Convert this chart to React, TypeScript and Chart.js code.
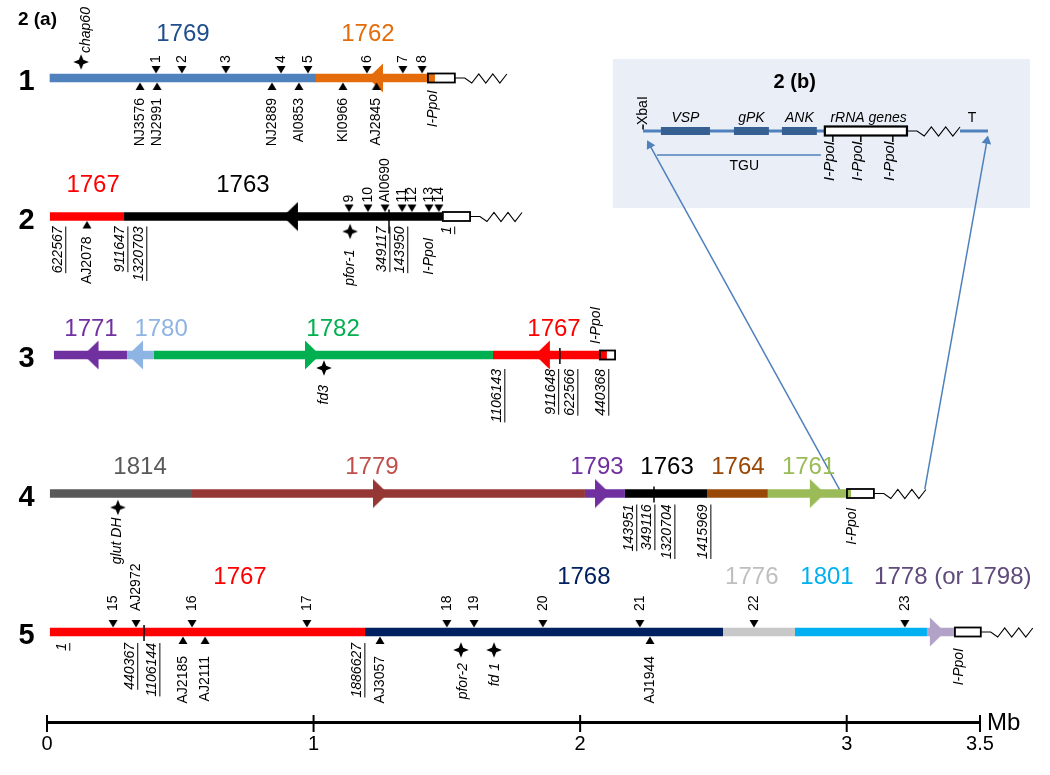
import React, { useEffect, useRef } from 'react';
import { Chart, registerables } from 'chart.js';

Chart.register(...registerables);

// ===================== DATA =====================
// x = position in Mb along each chromosomal band; row = band number of panel 2(a)
const ROW_NAMES = ['1', '2', '3', '4', '5'];
const AXIS_TICKS = [0, 1, 2, 3, 3.5];
const AXIS_UNIT = 'Mb';
const PANEL_A = '2 (a)';
const PANEL_B = '2 (b)';

const CONTIGS = [
  { row: 1, id: '1769', start: 0.010, end: 1.009, labelAt: 0.510 },
  { row: 1, id: '1762', start: 1.009, end: 1.429, labelAt: 1.204 },
  { row: 2, id: '1767', start: 0.011, end: 0.289, labelAt: 0.173 },
  { row: 2, id: '1763', start: 0.289, end: 1.485, labelAt: 0.735 },
  { row: 3, id: '1771', start: 0.026, end: 0.300, labelAt: 0.165 },
  { row: 3, id: '1780', start: 0.300, end: 0.401, labelAt: 0.428 },
  { row: 3, id: '1782', start: 0.401, end: 1.673, labelAt: 1.073 },
  { row: 3, id: '1767', start: 1.673, end: 2.074, labelAt: 1.902 },
  { row: 4, id: '1814', start: 0.011, end: 0.544, labelAt: 0.349 },
  { row: 4, id: '1779', start: 0.544, end: 2.018, labelAt: 1.219 },
  { row: 4, id: '1793', start: 2.018, end: 2.168, labelAt: 2.063 },
  { row: 4, id: '1763', start: 2.168, end: 2.476, labelAt: 2.326 },
  { row: 4, id: '1764', start: 2.476, end: 2.704, labelAt: 2.592 },
  { row: 4, id: '1761', start: 2.704, end: 3.001, labelAt: 2.857 },
  { row: 5, id: '1767', start: 0.011, end: 1.193, labelAt: 0.724 },
  { row: 5, id: '1768', start: 1.193, end: 2.536, labelAt: 2.014 },
  { row: 5, id: '1776', start: 2.536, end: 2.806, labelAt: 2.644 },
  { row: 5, id: '1801', start: 2.806, end: 3.301, labelAt: 2.926 },
  { row: 5, id: '1778', start: 3.301, end: 3.406, labelAt: 3.398 },
];
const CONTIG_CAPTIONS: Record<string, string> = { '1778': '1778 (or 1798)' };

const ARROWS = [
  { row: 1, id: '1762', tip: 1.204, dir: -1 },
  { row: 2, id: '1763', tip: 0.885, dir: -1 },
  { row: 3, id: '1771', tip: 0.137, dir: -1 },
  { row: 3, id: '1780', tip: 0.304, dir: -1 },
  { row: 3, id: '1782', tip: 1.024, dir: 1 },
  { row: 3, id: '1767', tip: 1.830, dir: -1 },
  { row: 4, id: '1779', tip: 1.279, dir: 1 },
  { row: 4, id: '1793', tip: 2.112, dir: 1 },
  { row: 4, id: '1761', tip: 2.918, dir: 1 },
  { row: 5, id: '1778', tip: 3.368, dir: 1 },
];

const MARKERS = [
  { row: 1, x: 0.409, side: 'above', name: '1' },
  { row: 1, x: 0.506, side: 'above', name: '2' },
  { row: 1, x: 0.671, side: 'above', name: '3' },
  { row: 1, x: 0.878, side: 'above', name: '4' },
  { row: 1, x: 0.979, side: 'above', name: '5' },
  { row: 1, x: 1.200, side: 'above', name: '6' },
  { row: 1, x: 1.335, side: 'above', name: '7' },
  { row: 1, x: 1.407, side: 'above', name: '8' },
  { row: 1, x: 0.349, side: 'below', name: 'NJ3576' },
  { row: 1, x: 0.413, side: 'below', name: 'NJ2991' },
  { row: 1, x: 0.844, side: 'below', name: 'NJ2889' },
  { row: 1, x: 0.945, side: 'below', name: 'AI0853' },
  { row: 1, x: 1.110, side: 'below', name: 'KI0966' },
  { row: 1, x: 1.236, side: 'below', name: 'AJ2845' },
  { row: 2, x: 1.133, side: 'above', name: '9' },
  { row: 2, x: 1.204, side: 'above', name: '10' },
  { row: 2, x: 1.268, side: 'above', name: 'AI0690' },
  { row: 2, x: 1.332, side: 'above', name: '11' },
  { row: 2, x: 1.369, side: 'above', name: '12' },
  { row: 2, x: 1.433, side: 'above', name: '13' },
  { row: 2, x: 1.470, side: 'above', name: '14' },
  { row: 2, x: 0.150, side: 'below', name: 'AJ2078' },
  { row: 5, x: 0.248, side: 'above', name: '15' },
  { row: 5, x: 0.334, side: 'above', name: 'AJ2972' },
  { row: 5, x: 0.544, side: 'above', name: '16' },
  { row: 5, x: 0.975, side: 'above', name: '17' },
  { row: 5, x: 1.500, side: 'above', name: '18' },
  { row: 5, x: 1.602, side: 'above', name: '19' },
  { row: 5, x: 1.860, side: 'above', name: '20' },
  { row: 5, x: 2.224, side: 'above', name: '21' },
  { row: 5, x: 2.652, side: 'above', name: '22' },
  { row: 5, x: 3.218, side: 'above', name: '23' },
  { row: 5, x: 0.510, side: 'below', name: 'AJ2185' },
  { row: 5, x: 0.593, side: 'below', name: 'AJ2111' },
  { row: 5, x: 1.249, side: 'below', name: 'AJ3057' },
  { row: 5, x: 2.262, side: 'below', name: 'AJ1944' },
];

const GENES = [
  { row: 1, x: 0.128, labelAt: 0.146, name: 'chap60' },
  { row: 2, x: 1.137, labelAt: 1.137, name: 'pfor-1' },
  { row: 3, x: 1.039, labelAt: 1.039, name: 'fd3' },
  { row: 4, x: 0.266, labelAt: 0.263, name: 'glut DH' },
  { row: 5, x: 1.553, labelAt: 1.560, name: 'pfor-2' },
  { row: 5, x: 1.677, labelAt: 1.680, name: 'fd 1' },
];

const JUNCTIONS = [
  { row: 2, x: 1.283 },
  { row: 3, x: 1.924 },
  { row: 4, x: 2.277 },
  { row: 5, x: 0.364 },
];

const BREAKPOINTS = [
  { row: 2, x: 0.041, text: '622567' },
  { row: 2, x: 0.274, text: '911647' },
  { row: 2, x: 0.345, text: '1320703' },
  { row: 2, x: 1.257, text: '349117' },
  { row: 2, x: 1.324, text: '143950' },
  { row: 2, x: 1.500, text: '1' },
  { row: 3, x: 1.688, text: '1106143' },
  { row: 3, x: 1.890, text: '911648' },
  { row: 3, x: 1.962, text: '622566' },
  { row: 3, x: 2.078, text: '440368' },
  { row: 4, x: 2.183, text: '143951' },
  { row: 4, x: 2.251, text: '349116' },
  { row: 4, x: 2.326, text: '1320704' },
  { row: 4, x: 2.461, text: '1415969' },
  { row: 5, x: 0.056, text: '1' },
  { row: 5, x: 0.311, text: '440367' },
  { row: 5, x: 0.394, text: '1106144' },
  { row: 5, x: 1.163, text: '1886627' },
];

const TELOMERE_ENDS = [
  { row: 1, start: 1.429, end: 1.530, zigzag: true },
  { row: 2, start: 1.485, end: 1.587, zigzag: true },
  { row: 3, start: 2.074, end: 2.131, zigzag: false },
  { row: 4, start: 3.001, end: 3.102, zigzag: true },
  { row: 5, start: 3.406, end: 3.503, zigzag: true },
];

const IPPOI_SITES = [
  { row: 1, x: 1.450, side: 'below' },
  { row: 2, x: 1.433, side: 'below' },
  { row: 3, x: 2.059, side: 'above' },
  { row: 4, x: 3.019, side: 'below' },
  { row: 5, x: 3.421, side: 'below' },
];
const IPPOI_NAME = 'I-PpoI';

// Panel 2(b) schematic
const INSET_GENES = [
  { name: 'VSP', start: 2.303, end: 2.487 },
  { name: 'gPK', start: 2.577, end: 2.708 },
  { name: 'ANK', start: 2.757, end: 2.888 },
];
const INSET_RRNA = { name: 'rRNA genes', start: 2.918, end: 3.226 };
const INSET_IPPOI = [2.948, 3.053, 3.173];
const INSET_BACKBONE = [[2.236, 2.918], [3.425, 3.530]];
const INSET_TGU = { name: 'TGU', start: 2.288, end: 2.903 };
const INSET_ENDS = [{ name: 'XbaI', x: 2.236 }, { name: 'T', x: 3.470 }];
const INSET_FRAME = { x0: 2.123, x1: 3.687 };
const CONNECTORS = [
  { from: [2.978, 3.989], to: [2.261, 1.484] },
  { from: [3.293, 3.968], to: [3.526, 1.454] },
];

// ===================== STYLE / LAYOUT =====================
const FONT = "'Liberation Sans', Arial, Helvetica, sans-serif";
const NARROW = "'Liberation Sans Narrow', 'Arial Narrow', 'Liberation Sans', Arial, sans-serif";
const BAR_COLORS: Record<string, string> = {
  '1769': '#4F81BD', '1762': '#E46C0A', '1767': '#FF0000', '1763': '#000000',
  '1771': '#7030A0', '1780': '#8DB4E2', '1782': '#00B050', '1814': '#595959',
  '1779': '#953735', '1793': '#7030A0', '1764': '#984807', '1761': '#9BBB59',
  '1768': '#002060', '1776': '#C8C8C8', '1801': '#00B0F0', '1778': '#B3A2C7',
};
const CAPTION_COLORS: Record<string, string> = {
  '1769': '#1F4E8C', '1779': '#C0504D', '1776': '#BFBFBF', '1778': '#604A7B',
};
const INSET_BLUE = '#4F81BD';
const INSET_BOX = '#376092';
const INSET_BG = '#E9EEF7';

const W = 1050, H = 775;
const PLOT_LEFT = 47, PLOT_RIGHT = 980;
const FIRST_ROW_PX = 78, ROW_GAP_PX = 138.5, AXIS_PX = 722;
const PX_PER_MB = (PLOT_RIGHT - PLOT_LEFT) / 3.5;
const Y_MIN = 1 - FIRST_ROW_PX / ROW_GAP_PX;
const Y_MAX = Y_MIN + H / ROW_GAP_PX;
const rowAt = (px: number) => 1 + (px - FIRST_ROW_PX) / ROW_GAP_PX;
const yOf = (row: number, dyPx = 0) => row + dyPx / ROW_GAP_PX;
const AXIS_ROW = rowAt(AXIS_PX);

const CAPTION_DY = [-44, -31, -26, -26, -55];
const ABOVE_DY = [-15, -14, -14, -14, -21];
const BELOW_DY = [20, 20, 20, 20, 24];
const BREAK_DY = [10, 10, 14, 11, 11];
const IPPOI_DY = [12, 21, -11, 14, 16];
const GENE_DY: Record<string, number[]> = {
  'chap60': [-16, -25], 'pfor-1': [15, 33], 'fd3': [13, 30],
  'glut DH': [14, 24], 'pfor-2': [18, 31], 'fd 1': [18, 31],
};
const INSET_PX = { top: 59, bottom: 208, title: 82, caption: 118, line: 131, tick: 138.5, tickLabel: 141, tgu: 155, tguLabel: 166, xba: 125 };

// ===================== helpers =====================
function mk(w: number, h: number, draw: (g: CanvasRenderingContext2D) => void) {
  const c = document.createElement('canvas');
  c.width = w; c.height = h;
  draw(c.getContext('2d') as CanvasRenderingContext2D);
  return c;
}
const arrowImg = (color: string, dir: number) => mk(32, 30, (g) => {
  g.fillStyle = color;
  g.beginPath();
  if (dir < 0) { g.moveTo(16, 15); g.lineTo(31, 0.5); g.lineTo(31, 29.5); }
  else { g.moveTo(16, 15); g.lineTo(1, 0.5); g.lineTo(1, 29.5); }
  g.closePath(); g.fill();
});
const markerImg = (above: boolean) => mk(12, 36, (g) => {
  g.fillStyle = '#000';
  g.beginPath();
  if (above) { g.moveTo(1.5, 6); g.lineTo(10.5, 6); g.lineTo(6, 13.5); }
  else { g.moveTo(6, 22.5); g.lineTo(10.5, 30); g.lineTo(1.5, 30); }
  g.closePath(); g.fill();
});
const starImg = () => mk(18, 18, (g) => {
  g.fillStyle = '#000';
  g.beginPath();
  for (let i = 0; i < 8; i++) {
    const a = -Math.PI / 2 + (i * Math.PI) / 4;
    const r = i % 2 === 0 ? 7.8 : 3.1;
    const px = 9 + r * Math.cos(a), py = 9 + r * Math.sin(a);
    if (i === 0) g.moveTo(px, py); else g.lineTo(px, py);
  }
  g.closePath(); g.fill();
});

function drawText(ctx: CanvasRenderingContext2D, s: string, px: number, py: number, o: any) {
  ctx.save();
  ctx.font = o.font;
  ctx.fillStyle = o.color || '#000';
  ctx.textBaseline = 'middle';
  ctx.translate(px, py);
  if (o.rot) ctx.rotate(-Math.PI / 2);
  ctx.textAlign = o.align || 'center';
  ctx.fillText(s, 0, 0);
  if (o.ul) {
    const w = ctx.measureText(s).width;
    const x0 = o.align === 'right' ? -w : o.align === 'left' ? 0 : -w / 2;
    ctx.strokeStyle = o.color || '#000';
    ctx.lineWidth = 1;
    ctx.beginPath();
    ctx.moveTo(x0, o.size * 0.56);
    ctx.lineTo(x0 + w, o.size * 0.56);
    ctx.stroke();
  }
  ctx.restore();
}

function zigzag(ctx: CanvasRenderingContext2D, x0: number, cy: number, len: number) {
  const pts = [[0, 0], [0.19, 0], [0.325, 5], [0.46, -4], [0.595, 5], [0.73, -4], [0.865, 5], [1, -4]];
  ctx.save();
  ctx.strokeStyle = '#000';
  ctx.lineWidth = 1.1;
  ctx.lineJoin = 'miter';
  ctx.beginPath();
  pts.forEach(([fx, dy], i) => {
    const px = x0 + fx * len, py = cy + dy;
    if (i === 0) ctx.moveTo(px, py); else ctx.lineTo(px, py);
  });
  ctx.stroke();
  ctx.restore();
}

function box(ctx: CanvasRenderingContext2D, x0: number, x1: number, cy: number, lw: number, fill?: string, fillPx = 0) {
  ctx.save();
  ctx.fillStyle = '#fff';
  ctx.fillRect(x0, cy - 4.5, x1 - x0, 9);
  if (fill) { ctx.fillStyle = fill; ctx.fillRect(x0, cy - 4.5, fillPx, 9); }
  ctx.strokeStyle = '#000';
  ctx.lineWidth = lw;
  ctx.strokeRect(x0, cy - 4.5, x1 - x0, 9);
  ctx.restore();
}

const mapPlugin = {
  id: 'genomeMap',
  beforeDatasetsDraw(chart: any) {
    const { ctx, scales: { x, y } } = chart;
    const x0 = x.getPixelForValue(INSET_FRAME.x0), x1 = x.getPixelForValue(INSET_FRAME.x1);
    const y0 = y.getPixelForValue(rowAt(INSET_PX.top)), y1 = y.getPixelForValue(rowAt(INSET_PX.bottom));
    ctx.save();
    ctx.fillStyle = INSET_BG;
    ctx.fillRect(x0, y0, x1 - x0, y1 - y0);
    ctx.restore();
  },
  afterDatasetsDraw(chart: any) {
    const { ctx, scales: { x, y } } = chart;
    const X = (v: number) => x.getPixelForValue(v);
    const Y = (r: number, dy = 0) => y.getPixelForValue(r) + dy;

    // telomeric rDNA boxes and zigzags
    TELOMERE_ENDS.forEach((t) => {
      const last = CONTIGS.filter((c) => c.row === t.row).slice(-1)[0];
      const fills: Record<number, number> = { 1: 7, 3: 7, 4: 4 };
      box(ctx, X(t.start), X(t.end), Y(t.row), 1.8, fills[t.row] ? BAR_COLORS[last.id] : undefined, fills[t.row] || 0);
      if (t.zigzag) zigzag(ctx, X(t.end), Y(t.row), 52);
    });
    // inset rRNA box + zigzag
    const iy = Y(rowAt(INSET_PX.line));
    box(ctx, X(INSET_RRNA.start), X(INSET_RRNA.end), iy, 2.2);
    zigzag(ctx, X(INSET_RRNA.end), iy, X(INSET_BACKBONE[1][0]) - X(INSET_RRNA.end));

    const f = (size: number, style = '') => `${style} ${size}px ${FONT}`.trim();

    // panel title
    drawText(ctx, PANEL_A, X(-0.109), Y(rowAt(20)), { font: f(19, 'bold'), align: 'left' });
    // row names
    ROW_NAMES.forEach((n, i) => drawText(ctx, n, X(-0.077), Y(i + 1, 4), { font: f(29, 'bold') }));
    // contig captions
    CONTIGS.forEach((c) => drawText(ctx, CONTIG_CAPTIONS[c.id] || c.id, X(c.labelAt), Y(c.row, CAPTION_DY[c.row - 1]), {
      font: f(24), color: CAPTION_COLORS[c.id] || BAR_COLORS[c.id],
    }));
    // marker labels
    MARKERS.forEach((m) => {
      const above = m.side === 'above';
      drawText(ctx, m.name, X(m.x), Y(m.row, above ? ABOVE_DY[m.row - 1] : BELOW_DY[m.row - 1]), {
        font: f(14), rot: true, align: above ? 'left' : 'right',
      });
    });
    // gene labels
    GENES.forEach((g) => {
      const dy = GENE_DY[g.name][1];
      drawText(ctx, g.name, X(g.labelAt), Y(g.row, dy), { font: f(14, 'italic'), rot: true, align: dy < 0 ? 'left' : 'right' });
    });
    // breakpoint coordinates
    BREAKPOINTS.forEach((b) => drawText(ctx, b.text, X(b.x), Y(b.row, BREAK_DY[b.row - 1]), {
      font: f(14, 'italic'), rot: true, align: 'right', ul: true, size: 14,
    }));
    // I-PpoI sites
    IPPOI_SITES.forEach((s) => {
      const dy = IPPOI_DY[s.row - 1];
      drawText(ctx, IPPOI_NAME, X(s.x), Y(s.row, dy), { font: f(14, 'italic'), rot: true, align: s.side === 'above' ? 'left' : 'right' });
    });

    // inset texts
    drawText(ctx, PANEL_B, X((INSET_FRAME.x0 + INSET_FRAME.x1) / 2 - 0.1), Y(rowAt(INSET_PX.title)), { font: f(20, 'bold') });
    INSET_GENES.forEach((g) => drawText(ctx, g.name, X((g.start + g.end) / 2), Y(rowAt(INSET_PX.caption)), { font: f(14, 'italic') }));
    drawText(ctx, INSET_RRNA.name, X((INSET_RRNA.start + INSET_RRNA.end) / 2 + 0.01), Y(rowAt(INSET_PX.caption)), { font: f(14, 'italic') });
    drawText(ctx, INSET_ENDS[0].name, X(INSET_ENDS[0].x), Y(rowAt(INSET_PX.xba)), { font: f(14), rot: true, align: 'left' });
    drawText(ctx, INSET_ENDS[1].name, X(INSET_ENDS[1].x), Y(rowAt(INSET_PX.caption)), { font: f(14) });
    drawText(ctx, INSET_TGU.name, X((INSET_TGU.start + INSET_TGU.end) / 2 + 0.02), Y(rowAt(INSET_PX.tguLabel)), { font: f(14) });
    INSET_IPPOI.forEach((v) => drawText(ctx, IPPOI_NAME, X(v - 0.011), Y(rowAt(INSET_PX.tickLabel)), { font: f(15, 'italic'), rot: true, align: 'right' }));

    // axis unit
    drawText(ctx, AXIS_UNIT, X(3.5) + 7, Y(AXIS_ROW, 1), { font: `24px ${NARROW}`, align: 'left' });
  },
};

export default function App() {
  const ref = useRef<HTMLCanvasElement>(null);
  useEffect(() => {
    const canvas = ref.current as HTMLCanvasElement;
    const ds: any[] = [];
    const line = (pts: any[], color: string, width: number, order: number, extra: any = {}) =>
      ds.push({
        data: pts, showLine: true, borderColor: color, backgroundColor: color, borderWidth: width,
        borderCapStyle: 'butt', pointRadius: 0, pointHoverRadius: 0, clip: false, order, ...extra,
      });

    // inset connectors (drawn above background)
    CONNECTORS.forEach((c) => {
      const dx = (c.to[0] - c.from[0]) * PX_PER_MB;
      const dy = (c.to[1] - c.from[1]) * ROW_GAP_PX;
      const rot = (Math.atan2(dx, -dy) * 180) / Math.PI;
      line([{ x: c.from[0], y: c.from[1] }, { x: c.to[0], y: c.to[1] }], INSET_BLUE, 1.5, 40, {
        pointStyle: 'triangle', pointRadius: [0, 5.5], pointHoverRadius: 20, pointRotation: [0, rot],
        pointBackgroundColor: INSET_BLUE, pointBorderColor: INSET_BLUE, pointBorderWidth: 0,
      });
    });
    // inset backbone, genes, TGU
    INSET_BACKBONE.forEach(([a, b]) => line([{ x: a, y: rowAt(INSET_PX.line) }, { x: b, y: rowAt(INSET_PX.line) }], INSET_BLUE, 3, 35));
    INSET_GENES.forEach((g) => line([{ x: g.start, y: rowAt(INSET_PX.line) }, { x: g.end, y: rowAt(INSET_PX.line) }], INSET_BOX, 8, 34));
    line([{ x: INSET_TGU.start, y: rowAt(INSET_PX.tgu) }, { x: INSET_TGU.end, y: rowAt(INSET_PX.tgu) }], INSET_BLUE, 1.3, 34);
    ds.push({
      data: [...INSET_IPPOI.map((v) => ({ x: v, y: rowAt(INSET_PX.tick) })), { x: INSET_ENDS[0].x, y: rowAt(INSET_PX.line - 4) }],
      pointStyle: 'line', pointRotation: 90, pointRadius: [3.5, 3.5, 3.5, 2.5], pointHoverRadius: 10,
      pointBorderColor: '#000', pointBorderWidth: 1.5, clip: false, order: 33,
    });

    // contig bars
    CONTIGS.forEach((c) => line([{ x: c.start, y: c.row }, { x: c.end, y: c.row }], BAR_COLORS[c.id], 8.5, 30));
    // orientation arrows
    ds.push({
      data: ARROWS.map((a) => ({ x: a.tip, y: a.row })),
      pointStyle: ARROWS.map((a) => arrowImg(BAR_COLORS[a.id], a.dir)),
      pointRadius: 6, pointHoverRadius: 20, clip: false, order: 20,
    });
    // probe markers
    const down = markerImg(true), up = markerImg(false);
    ds.push({
      data: MARKERS.map((m) => ({ x: m.x, y: m.row })),
      pointStyle: MARKERS.map((m) => (m.side === 'above' ? down : up)),
      pointRadius: 6, pointHoverRadius: 20, clip: false, order: 10,
    });
    // genes (stars)
    const star = starImg();
    ds.push({
      data: GENES.map((g) => ({ x: g.x, y: yOf(g.row, GENE_DY[g.name][0]) })),
      pointStyle: star, pointRadius: 6, pointHoverRadius: 20, clip: false, order: 10,
    });
    // junction ticks
    ds.push({
      data: JUNCTIONS.map((j) => ({ x: j.x, y: yOf(j.row, j.row === 2 ? 5 : 1) })),
      pointStyle: 'line', pointRotation: 90, pointRadius: JUNCTIONS.map((j) => (j.row === 2 ? 12 : 8)),
      pointHoverRadius: 20, pointBorderColor: '#000', pointBorderWidth: 1.5, clip: false, order: 5,
    });
    // axis ticks
    ds.push({
      data: AXIS_TICKS.map((v) => ({ x: v, y: yOf(AXIS_ROW, 1.5) })),
      pointStyle: 'line', pointRotation: 90, pointRadius: 8.5, pointHoverRadius: 20,
      pointBorderColor: '#000', pointBorderWidth: 2, clip: false, order: 5,
    });

    const chart = new Chart(canvas, {
      type: 'scatter',
      data: { datasets: ds },
      options: {
        animation: false,
        responsive: false,
        maintainAspectRatio: false,
        events: [],
        layout: { autoPadding: false, padding: { left: PLOT_LEFT, right: W - PLOT_RIGHT, top: 0, bottom: 0 } },
        plugins: { legend: { display: false }, tooltip: { enabled: false } },
        scales: {
          x: {
            type: 'linear', min: 0, max: 3.5,
            position: { y: AXIS_ROW } as any,
            afterBuildTicks: (s: any) => { s.ticks = AXIS_TICKS.map((v) => ({ value: v })); },
            grid: { display: false, drawTicks: false },
            border: { display: true, width: 3, color: '#000' },
            ticks: {
              padding: 10, color: '#000', autoSkip: false, maxRotation: 0,
              font: { family: NARROW, size: 20 },
              callback: (v: any) => String(v),
            },
          },
          y: { type: 'linear', min: Y_MIN, max: Y_MAX, reverse: true, display: false },
        },
      } as any,
      plugins: [mapPlugin],
    });
    return () => chart.destroy();
  }, []);

  return (
    <div style={{ position: 'absolute', left: 0, top: 0, width: W, height: H, background: '#fff' }}>
      <canvas ref={ref} width={W} height={H} style={{ display: 'block', width: W, height: H }} />
    </div>
  );
}
